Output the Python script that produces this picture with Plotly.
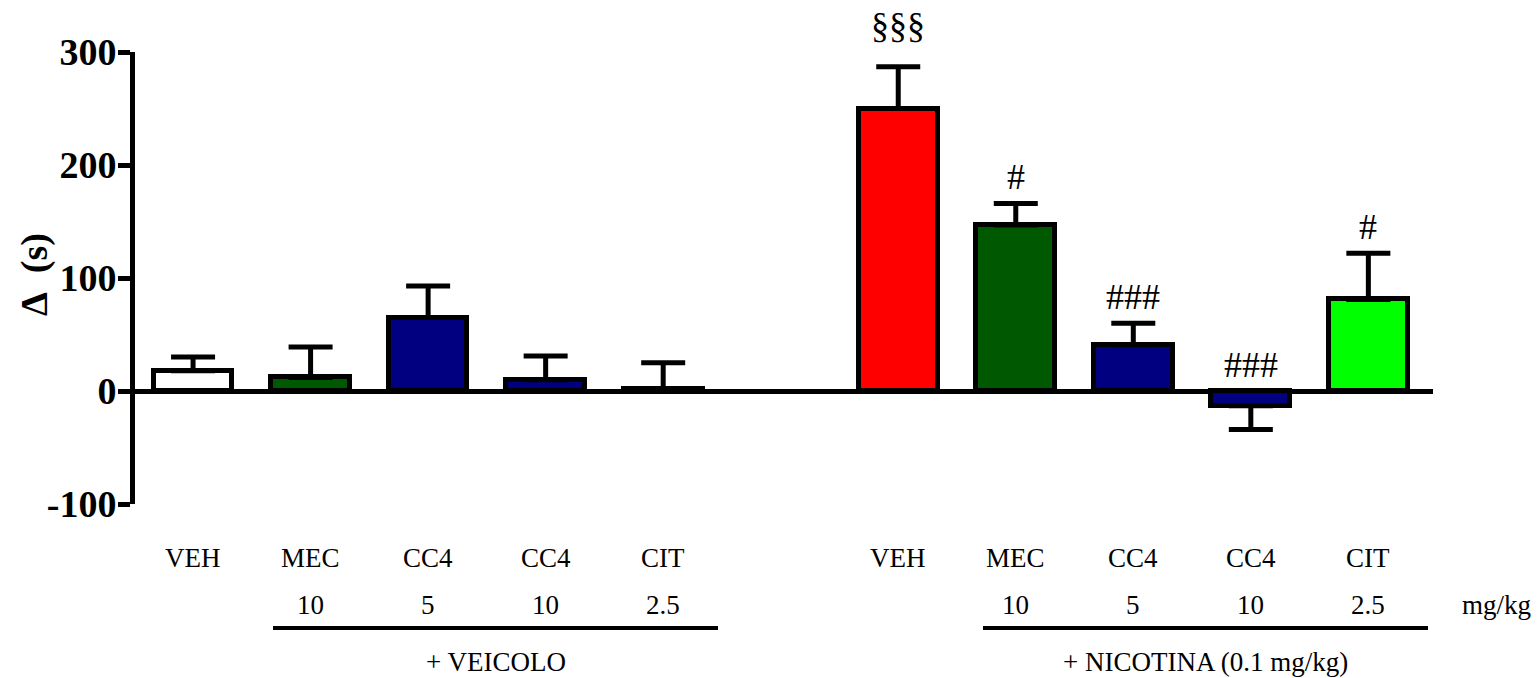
import plotly.graph_objects as go

# ---------------- data ----------------
drugs = ["VEH", "MEC", "CC4", "CC4", "CIT", "VEH", "MEC", "CC4", "CC4", "CIT"]
doses = ["", "10", "5", "10", "2.5", "", "10", "5", "10", "2.5"]
positions = [0, 1, 2, 3, 4, 6, 7, 8, 9, 10]
means = [18, 12, 65, 10, 2, 250, 147, 41, -13, 81]
err_up = [12, 27, 28, 21, 23, 37, 19, 19, 0, 41]
err_down = [0, 0, 0, 0, 0, 0, 0, 0, 21, 0]
colors = ["#FFFFFF", "#005800", "#000080", "#000080", "#00FF00",
          "#FF0000", "#005800", "#000080", "#000080", "#00FF00"]
sig_labels = ["", "", "", "", "", "§§§", "#", "###", "###", "#"]
group_labels = ["+ VEICOLO", "+ NICOTINA (0.1 mg/kg)"]
unit_label = "mg/kg"
y_ticks = [-100, 0, 100, 200, 300]
y_ticktext = ["-100", "0", "100", "200", "300"]
y_title = "Δ&nbsp;&nbsp;(s)"

# ---------------- layout helpers ----------------
W, H = 1540, 678
M_L, M_R, M_T, M_B = 135, 107, 52, 174
X_RANGE = [-0.494, 10.55]
SERIF = "Liberation Serif"
PW = W - M_L - M_R
PH = H - M_T - M_B


def py_to_paper(py):
    return 1 - (py - M_T) / PH


def px_to_paper(px):
    return (px - M_L) / PW


fig = go.Figure()
fig.add_trace(go.Bar(
    x=positions,
    y=means,
    width=0.67,
    marker=dict(color=colors, line=dict(color="black", width=5)),
    error_y=dict(type="data", symmetric=False, array=err_up, arrayminus=err_down,
                 color="black", thickness=5, width=22),
    showlegend=False,
))

annotations = []
# significance labels
for xp, m, e, lab in zip(positions, means, err_up, sig_labels):
    if lab:
        top = max(m + e, 0)
        annotations.append(dict(
            x=xp, y=top, xref="x", yref="y", text=lab, showarrow=False,
            xanchor="center", yanchor="bottom", yshift=4 if lab != "§§§" else 20,
            font=dict(family=SERIF, size=36, color="black")))

# category and dose labels
for xp, d, dose in zip(positions, drugs, doses):
    annotations.append(dict(
        x=xp, y=py_to_paper(558), xref="x", yref="paper", text=d, showarrow=False,
        xanchor="center", yanchor="middle", font=dict(family=SERIF, size=27, color="black")))
    if dose:
        annotations.append(dict(
            x=xp, y=py_to_paper(605), xref="x", yref="paper", text=dose, showarrow=False,
            xanchor="center", yanchor="middle",
            font=dict(family=SERIF, size=27, color="black")))

annotations.append(dict(
    x=px_to_paper(1496), y=py_to_paper(605), xref="paper", yref="paper", text=unit_label,
    showarrow=False, xanchor="center", yanchor="middle",
    font=dict(family=SERIF, size=27, color="black")))

underlines = [(273, 718), (983, 1428)]
shapes = []
for (a, b), g in zip(underlines, group_labels):
    shapes.append(dict(type="line", xref="paper", yref="paper",
                       x0=px_to_paper(a), x1=px_to_paper(b),
                       y0=py_to_paper(628), y1=py_to_paper(628),
                       line=dict(color="black", width=4)))
    annotations.append(dict(
        x=px_to_paper((a + b) / 2), y=py_to_paper(662), xref="paper", yref="paper", text=g,
        showarrow=False, xanchor="center", yanchor="middle",
        font=dict(family=SERIF, size=27, color="black")))

# y-axis title
annotations.append(dict(
    x=px_to_paper(34), y=py_to_paper(275), xref="paper", yref="paper",
    text="<b>" + y_title + "</b>",
    showarrow=False, textangle=-90, xanchor="center", yanchor="middle",
    font=dict(family=SERIF, size=38, color="black")))

fig.update_layout(
    width=W, height=H,
    margin=dict(l=M_L, r=M_R, t=M_T, b=M_B, pad=0),
    plot_bgcolor="white", paper_bgcolor="white",
    xaxis=dict(range=X_RANGE, visible=False, fixedrange=True),
    yaxis=dict(range=[-100, 300], tickvals=y_ticks, ticktext=y_ticktext,
               ticks="outside", ticklen=12, ticklabelstandoff=-6,
               tickwidth=5, tickcolor="black", showline=True, linewidth=5,
               linecolor="black", showgrid=False, zeroline=True, zerolinewidth=5,
               zerolinecolor="black",
               tickfont=dict(family=SERIF, size=38, color="black", weight="bold")),
    annotations=annotations,
    shapes=shapes,
    bargap=0,
)

fig.write_html("out.html", config={"displayModeBar": False},
               post_script="document.body.style.margin='0';")
